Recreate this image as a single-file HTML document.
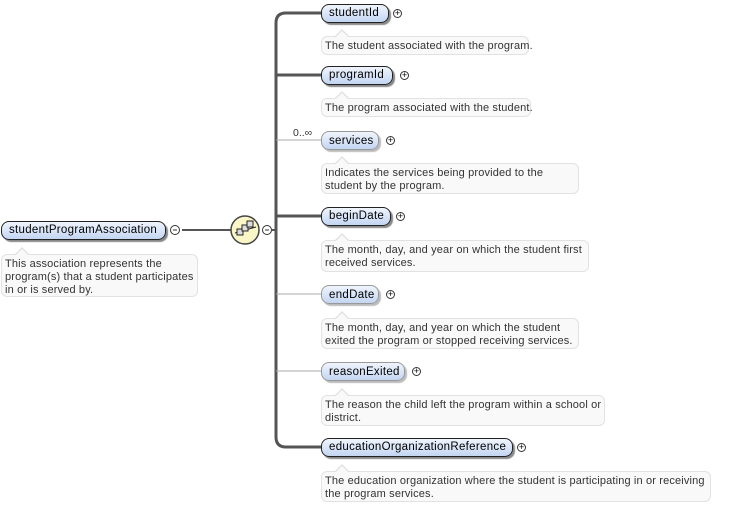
<!DOCTYPE html>
<html><head><meta charset="utf-8"><style>
body{margin:0;width:735px;height:507px;background:#fff;position:relative;overflow:hidden;font-family:"Liberation Sans",sans-serif;}
.n{position:absolute;height:19px;box-sizing:border-box;border-radius:8px;background:linear-gradient(#f0f5fd,#c3d5f2);font-size:11.5px;line-height:17px;padding-left:7px;color:#000;white-space:nowrap;letter-spacing:0.3px;}
.req{border:1.5px solid #222;box-shadow:2px 2px 1px #888;}
.opt{border:1px solid #999;box-shadow:2px 2px 1px #bbb;line-height:18px;}
.d{position:absolute;box-sizing:border-box;background:#f9f9f9;border:1px solid #e2e2e2;border-radius:6px;font-size:11px;line-height:13px;padding:3px 3px 2px;color:#333;white-space:nowrap;letter-spacing:0.15px;}
.d:before{content:"";position:absolute;left:12px;top:-8px;width:0;height:0;border-left:8px solid transparent;border-right:8px solid transparent;border-bottom:8px solid #e2e2e2;}
.d:after{content:"";position:absolute;left:13px;top:-6px;width:0;height:0;border-left:7px solid transparent;border-right:7px solid transparent;border-bottom:7px solid #f9f9f9;}
.p{position:absolute;width:9px;height:9px;border:1px solid #333;border-radius:50%;box-sizing:border-box;background:#fff;font-size:9px;line-height:7px;text-align:center;}
</style></head><body>
<svg width="735" height="507" style="position:absolute;left:0;top:0">
<line x1="182" y1="230" x2="231" y2="230" stroke="#555" stroke-width="2"/>
<line x1="272" y1="230" x2="276" y2="230" stroke="#555" stroke-width="2"/>
<path d="M321 13 H286 Q276 13 276 23 V437 Q276 447 286 447 H321" fill="none" stroke="#555" stroke-width="3"/>
<line x1="276" y1="75" x2="321" y2="75" stroke="#555" stroke-width="3"/>
<line x1="276" y1="216" x2="321" y2="216" stroke="#555" stroke-width="3"/>
<line x1="276" y1="140" x2="321" y2="140" stroke="#aaa" stroke-width="1"/>
<line x1="276" y1="294" x2="321" y2="294" stroke="#aaa" stroke-width="1"/>
<line x1="276" y1="371" x2="321" y2="371" stroke="#aaa" stroke-width="1"/>
<circle cx="245" cy="230" r="14" fill="#fbf6c8" stroke="#444" stroke-width="1.5"/>
<line x1="235" y1="233" x2="256" y2="227" stroke="#222" stroke-width="1"/>
<rect x="237" y="229" width="6" height="6" fill="#ddd" stroke="#222"/>
<rect x="242" y="225" width="6" height="6" fill="#ddd" stroke="#222"/>
<rect x="247" y="221" width="6" height="6" fill="#ddd" stroke="#222"/>
<circle cx="175" cy="230" r="4.5" fill="#fff" stroke="#333"/><line x1="173" y1="230" x2="177" y2="230" stroke="#333"/>
<circle cx="267" cy="230" r="4.5" fill="#fff" stroke="#333"/><line x1="265" y1="230" x2="269" y2="230" stroke="#333"/>
<text x="293" y="136" font-size="10.5" font-family="Liberation Sans,sans-serif" fill="#333">0..∞</text>
</svg>
<div class="n req" style="left:1px;top:221px;width:165px">studentProgramAssociation</div>
<div class="d" style="left:1px;top:254px;width:197px;height:43px">This association represents the<br>program(s) that a student participates<br>in or is served by.</div>

<div class="n req" style="left:321px;top:4px;width:68px">studentId</div><div class="p" style="left:393px;top:9px">+</div>
<div class="d" style="left:321px;top:36px;width:208px;height:19px">The student associated with the program.</div>
<div class="n req" style="left:321px;top:66px;width:72px">programId</div><div class="p" style="left:400px;top:71px">+</div>
<div class="d" style="left:321px;top:98px;width:210px;height:19px">The program associated with the student.</div>
<div class="n opt" style="left:321px;top:131px;width:58px">services</div><div class="p" style="left:386px;top:136px">+</div>
<div class="d" style="left:321px;top:163px;width:258px;height:31px">Indicates the services being provided to the<br>student by the program.</div>
<div class="n req" style="left:321px;top:207px;width:70px">beginDate</div><div class="p" style="left:396px;top:212px">+</div>
<div class="d" style="left:321px;top:240px;width:268px;height:32px">The month, day, and year on which the student first<br>received services.</div>
<div class="n opt" style="left:321px;top:285px;width:58px">endDate</div><div class="p" style="left:386px;top:290px">+</div>
<div class="d" style="left:321px;top:318px;width:258px;height:31px">The month, day, and year on which the student<br>exited the program or stopped receiving services.</div>
<div class="n opt" style="left:321px;top:362px;width:84px">reasonExited</div><div class="p" style="left:412px;top:367px">+</div>
<div class="d" style="left:321px;top:395px;width:284px;height:31px">The reason the child left the program within a school or<br>district.</div>
<div class="n req" style="left:321px;top:438px;width:192px">educationOrganizationReference</div><div class="p" style="left:517px;top:443px">+</div>
<div class="d" style="left:321px;top:471px;width:390px;height:31px">The education organization where the student is participating in or receiving<br>the program services.</div>
</body></html>
